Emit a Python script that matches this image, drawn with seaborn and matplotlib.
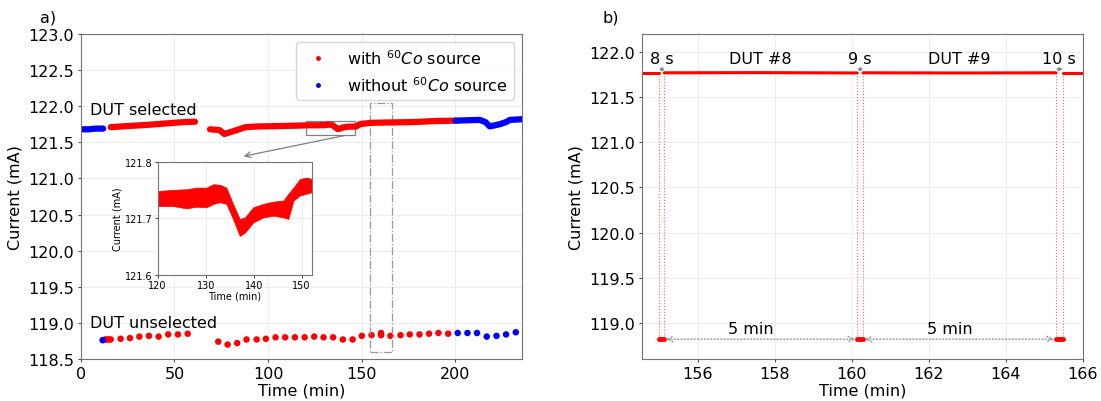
import numpy as np
import pandas as pd
import matplotlib
matplotlib.use("Agg")
import matplotlib.pyplot as plt
from matplotlib.lines import Line2D
from matplotlib.patches import Rectangle
import seaborn as sns

# ---- data ----
# DUT selected (left panel), split in segments: (time, current, source)
sel_blue1_t = [0.5, 4, 8, 12]
sel_blue1_v = [121.68, 121.68, 121.69, 121.69]
sel_red1_t = [16, 25, 35, 45, 55, 61]
sel_red1_v = [121.71, 121.725, 121.74, 121.76, 121.78, 121.785]
sel_red2_t = [69, 74, 76.7, 81, 88, 95, 106, 115, 120, 123, 126, 128, 130, 131.6, 133,
              134.3, 135.7, 137.1, 138.2, 140, 142, 144, 146.2, 147.2, 148.3, 149.6,
              151, 155, 165, 177, 190, 200]
sel_red2_v = [121.68, 121.67, 121.615, 121.65, 121.71, 121.72, 121.725, 121.73, 121.735,
              121.736, 121.735, 121.738, 121.737, 121.743, 121.745, 121.74, 121.712,
              121.684, 121.688, 121.706, 121.714, 121.717, 121.717, 121.72, 121.743,
              121.755, 121.758, 121.77, 121.775, 121.78, 121.795, 121.80]
sel_blue2_t = [200, 206, 213, 216, 218.3, 220, 223.6, 227, 229, 235.5]
sel_blue2_v = [121.80, 121.805, 121.81, 121.78, 121.72, 121.73, 121.75, 121.78, 121.81, 121.82]

# DUT unselected (left panel): one reading every ~5 min
uns_red_t = [13.0, 14.0, 15.0, 16.0, 21.3, 26.3, 31.3, 36.4, 41.6, 46.7, 51.9, 57.1,
             73.4, 78.4, 83.5, 88.5, 93.9, 98.8, 104.0, 109.1, 114.3, 119.5, 124.6,
             129.6, 134.7, 139.9, 145.1, 150.0, 155.2, 160.3, 160.3, 165.3, 170.7,
             175.6, 180.8, 185.9, 190.9, 196.1]
uns_red_v = [118.77, 118.77, 118.77, 118.77, 118.78, 118.79, 118.81, 118.82, 118.81,
             118.84, 118.84, 118.85, 118.74, 118.70, 118.72, 118.77, 118.77, 118.78,
             118.80, 118.80, 118.80, 118.80, 118.81, 118.80, 118.80, 118.77, 118.77,
             118.82, 118.83, 118.86, 118.83, 118.82, 118.83, 118.84, 118.84, 118.85,
             118.86, 118.85]
uns_blue_t = [11.7, 201.2, 206.4, 211.5, 216.7, 221.9, 227.0, 232.2]
uns_blue_v = [118.76, 118.86, 118.86, 118.86, 118.81, 118.82, 118.84, 118.87]

# inset: noise band of the selected current, 120-152 min
ins_t = [120.1, 123.3, 126.0, 128.1, 130.2, 131.6, 133.0, 134.3, 135.7, 137.1, 138.2,
         139.9, 142.0, 144.1, 146.2, 147.2, 148.3, 149.6, 151.0, 152.2]
ins_hi = [121.749, 121.751, 121.752, 121.755, 121.755, 121.761, 121.760, 121.755,
          121.726, 121.699, 121.702, 121.720, 121.726, 121.730, 121.732, 121.744,
          121.755, 121.770, 121.773, 121.770]
ins_lo = [121.722, 121.722, 121.718, 121.721, 121.720, 121.726, 121.729, 121.726,
          121.699, 121.669, 121.675, 121.693, 121.702, 121.705, 121.702, 121.699,
          121.732, 121.741, 121.744, 121.747]

# right panel: switching between DUT #8 and DUT #9
sw_start = [155.0, 160.14, 165.30]
sw_end = [155.13, 160.29, 165.47]
sw_labels = ["8 s", "9 s", "10 s"]
dut_labels = ["DUT #8", "DUT #9"]
zoom_sel_t = [154.55, 155.0, 155.13, 157.65, 160.14, 160.29, 162.8, 165.30, 165.47, 166.0]
zoom_sel_v = [121.77, 121.77, 121.77, 121.772, 121.768, 121.77, 121.768, 121.77, 121.77, 121.77]
zoom_sel_seg = [0, 0, 1, 1, 1, 2, 2, 2, 3, 3]
zoom_uns_v = 118.82

# ---- style ----
sns.set_style("whitegrid", rc={
    "axes.edgecolor": "0.45",
    "grid.color": "0.93",
    "xtick.bottom": True,
    "ytick.left": True,
    "xtick.color": "0.3",
    "ytick.color": "0.3",
})
plt.rcParams["font.family"] = ["DejaVu Sans"]
plt.rcParams["xtick.labelcolor"] = "black"
plt.rcParams["ytick.labelcolor"] = "black"
plt.rcParams["text.color"] = "black"
plt.rcParams["axes.labelcolor"] = "black"
plt.rcParams["xtick.labelsize"] = 11.5
plt.rcParams["ytick.labelsize"] = 11.5
plt.rcParams["axes.labelsize"] = 11.5
plt.rcParams["xtick.major.size"] = 2.5
plt.rcParams["ytick.major.size"] = 2.5
plt.rcParams["xtick.major.pad"] = 2.5
plt.rcParams["ytick.major.pad"] = 2.5

fig = plt.figure(figsize=(11.01, 4.02), dpi=100)
ax1 = fig.add_axes([0.0733, 0.1045, 0.4008, 0.8085])
ax2 = fig.add_axes([0.5831, 0.1045, 0.4005, 0.8085])

# ---- left panel ----
for t, v, c in [(sel_blue1_t, sel_blue1_v, "blue"), (sel_red1_t, sel_red1_v, "red"),
                (sel_red2_t, sel_red2_v, "red"), (sel_blue2_t, sel_blue2_v, "blue")]:
    sns.lineplot(x=t, y=v, color=c, lw=4.5, ax=ax1, estimator=None, sort=False)

sns.scatterplot(x=uns_red_t, y=uns_red_v, color="red", s=22, edgecolor="none", ax=ax1)
sns.scatterplot(x=uns_blue_t, y=uns_blue_v, color="blue", s=22, edgecolor="none", ax=ax1)

ax1.set_xlim(0, 235.5)
ax1.set_ylim(118.5, 123.0)
ax1.set_yticks(np.arange(118.5, 123.01, 0.5))
ax1.set_xticks([0, 50, 100, 150, 200])
ax1.set_xlabel("Time (min)", labelpad=1)
ax1.set_ylabel("Current (mA)")
ax1.text(4.7, 121.96, "DUT selected", fontsize=11.5, va="center")
ax1.text(4.7, 119.01, "DUT unselected", fontsize=11.5, va="center")

ax1.add_patch(Rectangle((120, 121.6), 26.5, 0.2, fill=False, ec="0.5", lw=0.9))
ax1.add_patch(Rectangle((154.6, 118.6), 11.6, 3.45, fill=False, ec="0.6", lw=0.9, ls="-."))
ax1.annotate("", xy=(85.5, 121.30), xytext=(142, 121.6),
             arrowprops=dict(arrowstyle="->", color="0.5", lw=0.9))

handles = [Line2D([], [], ls="none", marker="o", ms=2.5, color="red"),
           Line2D([], [], ls="none", marker="o", ms=2.5, color="blue")]
ax1.legend(handles, ["with $^{60}Co$ source", "without $^{60}Co$ source"],
           loc="upper right", fontsize=11.5, frameon=True, borderaxespad=0.5)

# inset
axin = fig.add_axes([0.1432, 0.3142, 0.1404, 0.2796])
axin.fill_between(ins_t, ins_lo, ins_hi, color="red", lw=0.5, ec="red")
axin.set_xlim(120, 152.2)
axin.set_ylim(121.6, 121.8)
axin.set_xticks([120, 130, 140, 150])
axin.set_yticks([121.6, 121.7, 121.8])
axin.tick_params(labelsize=7, length=2, pad=1.5)
axin.set_xlabel("Time (min)", fontsize=7, labelpad=1)
axin.set_ylabel("Current (mA)", fontsize=7, labelpad=2)

# ---- right panel ----
df_zoom = pd.DataFrame({"t": zoom_sel_t, "v": zoom_sel_v, "seg": zoom_sel_seg})
sns.lineplot(data=df_zoom, x="t", y="v", units="seg", estimator=None, color="red",
             lw=2.2, ax=ax2, sort=False)
for a, b in zip(sw_start, sw_end):
    sns.lineplot(x=[a, b], y=[zoom_uns_v, zoom_uns_v], color="red", lw=3.5, ax=ax2)
ax2.vlines(sw_start + sw_end, zoom_uns_v, 121.77, colors="red", linestyles=":",
           lw=0.8, alpha=0.6)

for a, b, lab in zip(sw_start, sw_end, sw_labels):
    ax2.annotate("", xy=(b, 121.81), xytext=(a, 121.81),
                 arrowprops=dict(arrowstyle="<->", color="0.5", lw=0.7, mutation_scale=5,
                                 shrinkA=0, shrinkB=0))
    ax2.text((a + b) / 2, 121.93, lab, fontsize=11.5, ha="center", va="center")

for i in range(2):
    a = sw_end[i] + 0.05
    b = sw_start[i + 1] - 0.06
    ax2.annotate("", xy=(b, zoom_uns_v), xytext=(a, zoom_uns_v),
                 arrowprops=dict(arrowstyle="<->", color="0.55", lw=0.9, ls=":",
                                 shrinkA=0, shrinkB=0))
    mid = (sw_end[i] + sw_start[i + 1]) / 2
    ax2.text(mid - 0.25, 118.94, "5 min", fontsize=11.5, ha="center", va="center")
    ax2.text(mid, 121.93, dut_labels[i], fontsize=11.5, ha="center", va="center")

ax2.set_xlim(154.55, 166)
ax2.set_ylim(118.6, 122.2)
ax2.set_xticks([156, 158, 160, 162, 164, 166])
ax2.set_yticks(np.arange(119.0, 122.01, 0.5))
ax2.set_xlabel("Time (min)", labelpad=1)
ax2.set_ylabel("Current (mA)")

fig.text(0.036, 0.955, "a)", fontsize=11.5, va="center")
fig.text(0.547, 0.955, "b)", fontsize=11.5, va="center")

fig.savefig("out.png", dpi=100)
